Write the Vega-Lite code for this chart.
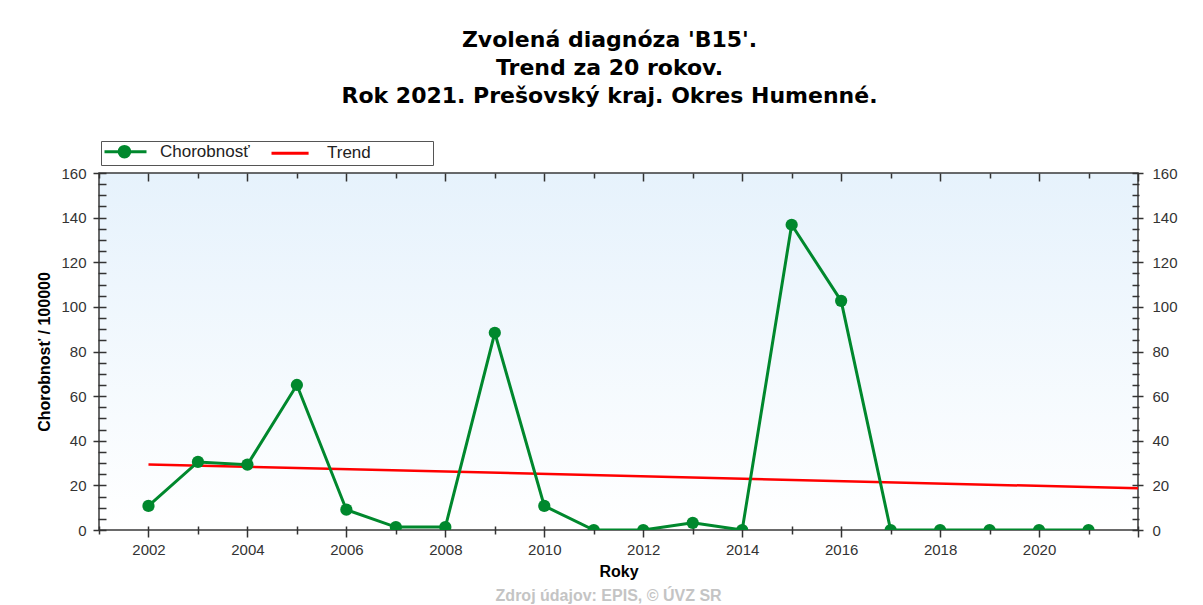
{
  "$schema": "https://vega.github.io/schema/vega-lite/v6.json",
  "width": 1039,
  "height": 357,
  "autosize": "none",
  "padding": {"left": 99, "top": 173, "right": 65, "bottom": 75},
  "background": "white",
  "title": {
    "text": ["Zvolená diagnóza 'B15'.", "Trend za 20 rokov.", "Rok 2021. Prešovský kraj. Okres Humenné."],
    "font": "DejaVu Sans",
    "fontSize": 22,
    "fontWeight": "bold",
    "color": "#000000",
    "lineHeight": 28,
    "anchor": "middle",
    "frame": "group",
    "dx": -9,
    "offset": 33
  },
  "view": {
    "fill": {"gradient": "linear", "x1": 0, "y1": 0, "x2": 0, "y2": 1, "stops": [{"offset": 0, "color": "#e6f2fc"}, {"offset": 1, "color": "#ffffff"}]},
    "stroke": "#3a3a3a",
    "strokeWidth": 1.5
  },
  "data": {
    "values": [
      {"year": 2002, "value": 10.8, "series": "Chorobnosť"},
      {"year": 2003, "value": 30.5, "series": "Chorobnosť"},
      {"year": 2004, "value": 29.3, "series": "Chorobnosť"},
      {"year": 2005, "value": 65.0, "series": "Chorobnosť"},
      {"year": 2006, "value": 9.1, "series": "Chorobnosť"},
      {"year": 2007, "value": 1.3, "series": "Chorobnosť"},
      {"year": 2008, "value": 1.3, "series": "Chorobnosť"},
      {"year": 2009, "value": 88.4, "series": "Chorobnosť"},
      {"year": 2010, "value": 10.8, "series": "Chorobnosť"},
      {"year": 2011, "value": 0, "series": "Chorobnosť"},
      {"year": 2012, "value": 0, "series": "Chorobnosť"},
      {"year": 2013, "value": 3.2, "series": "Chorobnosť"},
      {"year": 2014, "value": 0, "series": "Chorobnosť"},
      {"year": 2015, "value": 136.8, "series": "Chorobnosť"},
      {"year": 2016, "value": 102.7, "series": "Chorobnosť"},
      {"year": 2017, "value": 0, "series": "Chorobnosť"},
      {"year": 2018, "value": 0, "series": "Chorobnosť"},
      {"year": 2019, "value": 0, "series": "Chorobnosť"},
      {"year": 2020, "value": 0, "series": "Chorobnosť"},
      {"year": 2021, "value": 0, "series": "Chorobnosť"},
      {"year": 2002, "value": 29.4, "series": "Trend"},
      {"year": 2022, "value": 18.7, "series": "Trend"}
    ]
  },
  "layer": [
    {
      "transform": [{"filter": "datum.series === 'Trend'"}],
      "mark": {"type": "line", "strokeWidth": 2.5, "clip": true},
      "encoding": {
        "x": {
          "field": "year", "type": "quantitative",
          "scale": {"domain": [2001, 2022], "nice": false, "zero": false},
          "axis": {
            "orient": "bottom",
            "values": [2001, 2002, 2003, 2004, 2005, 2006, 2007, 2008, 2009, 2010, 2011, 2012, 2013, 2014, 2015, 2016, 2017, 2018, 2019, 2020, 2021, 2022],
            "format": "d",
            "offset": -4,
            "domain": false,
            "grid": false,
            "tickSize": {"condition": {"test": "datum.value % 2 === 0", "value": 11}, "value": 8},
            "labelExpr": "datum.value % 2 === 0 && datum.value < 2021 ? datum.label : ''",
            "labelPadding": 5,
            "labelOverlap": false,
            "labelFlush": false,
            "labelFontSize": 15,
            "title": "Roky",
            "titleFontSize": 16,
            "titleFontWeight": "bold",
            "titlePadding": 6
          }
        },
        "y": {
          "field": "value", "type": "quantitative",
          "scale": {"domain": [0, 160], "nice": false, "zero": false},
          "axis": {
            "orient": "left",
            "values": [0, 5, 10, 15, 20, 25, 30, 35, 40, 45, 50, 55, 60, 65, 70, 75, 80, 85, 90, 95, 100, 105, 110, 115, 120, 125, 130, 135, 140, 145, 150, 155, 160],
            "offset": -7,
            "domain": false,
            "grid": false,
            "tickSize": {"condition": {"test": "datum.value % 20 === 0", "value": 13}, "value": 8},
            "labelExpr": "datum.value % 20 === 0 ? datum.label : ''",
            "labelPadding": 7,
            "labelOverlap": false,
            "labelFlush": false,
            "labelFontSize": 15,
            "title": "Chorobnosť / 100000",
            "titleFontSize": 16,
            "titleFontWeight": "bold",
            "titlePadding": 8
          }
        },
        "color": {
          "field": "series", "type": "nominal",
          "scale": {"domain": ["Chorobnosť", "Trend"], "range": ["#00882d", "#ff0000"]},
          "legend": {
            "orient": "none",
            "legendX": 2,
            "legendY": -32,
            "direction": "horizontal",
            "title": null,
            "fillColor": "#ffffff",
            "strokeColor": "#555555",
            "padding": 2,
            "symbolType": "M-1,0H5",
            "symbolSize": 196,
            "symbolStrokeWidth": 3,
            "labelFont": "Liberation Sans",
            "labelFontSize": 17,
            "labelColor": "#222222",
            "labelOffset": 40,
            "labelLimit": 400,
            "columnPadding": 15,
            "labelExpr": "datum.label === 'Trend' ? 'Trend\u2800\u2800\u2800\u2800\u2800' : datum.label",
            "encode": {
              "symbols": {
                "update": {
                  "shape": {"signal": "datum.value === 'Trend' ? 'M-1,0H4.3' : 'M-1,0H5M1.1,0A0.75,0.75 0 1,1 2.6,0A0.75,0.75 0 1,1 1.1,0Z'"},
                  "fill": {"signal": "datum.value === 'Trend' ? 'transparent' : '#00882d'"},
                  "stroke": {"signal": "datum.value === 'Trend' ? '#ff0000' : '#00882d'"}
                }
              }
            }
          }
        }
      }
    },
    {
      "transform": [{"filter": "datum.series === 'Chorobnosť'"}],
      "mark": {"type": "line", "color": "#00882d", "strokeWidth": 3, "clip": true},
      "encoding": {
        "x": {
          "field": "year", "type": "quantitative",
          "scale": {"domain": [2001, 2022], "nice": false, "zero": false},
          "axis": {
            "orient": "top",
            "values": [2001, 2002, 2003, 2004, 2005, 2006, 2007, 2008, 2009, 2010, 2011, 2012, 2013, 2014, 2015, 2016, 2017, 2018, 2019, 2020, 2021, 2022],
            "domain": false,
            "grid": false,
            "labels": false,
            "tickSize": {"condition": {"test": "datum.value % 2 === 0", "value": -8}, "value": -5},
            "title": null
          }
        },
        "y": {
          "field": "value", "type": "quantitative",
          "scale": {"domain": [0, 160], "nice": false, "zero": false},
          "axis": {
            "orient": "right",
            "values": [0, 5, 10, 15, 20, 25, 30, 35, 40, 45, 50, 55, 60, 65, 70, 75, 80, 85, 90, 95, 100, 105, 110, 115, 120, 125, 130, 135, 140, 145, 150, 155, 160],
            "offset": -6,
            "domain": false,
            "grid": false,
            "tickSize": {"condition": {"test": "datum.value % 20 === 0", "value": 11}, "value": 7},
            "labelExpr": "datum.value % 20 === 0 ? datum.label : ''",
            "labelPadding": 9,
            "labelOverlap": false,
            "labelFlush": false,
            "labelFontSize": 15,
            "title": null
          }
        }
      }
    },
    {
      "transform": [{"filter": "datum.series === 'Chorobnosť'"}],
      "mark": {"type": "point", "filled": true, "color": "#00882d", "opacity": 1, "size": 150, "clip": true},
      "encoding": {
        "x": {"field": "year", "type": "quantitative", "scale": {"domain": [2001, 2022], "nice": false, "zero": false}, "axis": null},
        "y": {"field": "value", "type": "quantitative", "scale": {"domain": [0, 160], "nice": false, "zero": false}, "axis": null}
      }
    },
    {
      "data": {"values": [{"note": "Zdroj údajov: EPIS, © ÚVZ SR"}]},
      "mark": {"type": "text", "color": "#c4c4c4", "font": "Liberation Sans", "fontSize": 16, "fontWeight": "bold", "align": "center", "baseline": "middle"},
      "encoding": {
        "x": {"datum": 2011.3, "type": "quantitative", "scale": {"domain": [2001, 2022], "nice": false, "zero": false}, "axis": null},
        "y": {"datum": -29.4, "type": "quantitative", "scale": {"domain": [0, 160], "nice": false, "zero": false}, "axis": null},
        "text": {"field": "note"}
      }
    }
  ],
  "resolve": {"scale": {"x": "independent", "y": "independent"}},
  "config": {
    "font": "Liberation Sans",
    "axis": {
      "tickColor": "#333333",
      "tickWidth": 1.5,
      "labelFont": "Liberation Sans",
      "labelColor": "#333333",
      "titleFont": "Liberation Sans",
      "titleColor": "#000000"
    }
  }
}
